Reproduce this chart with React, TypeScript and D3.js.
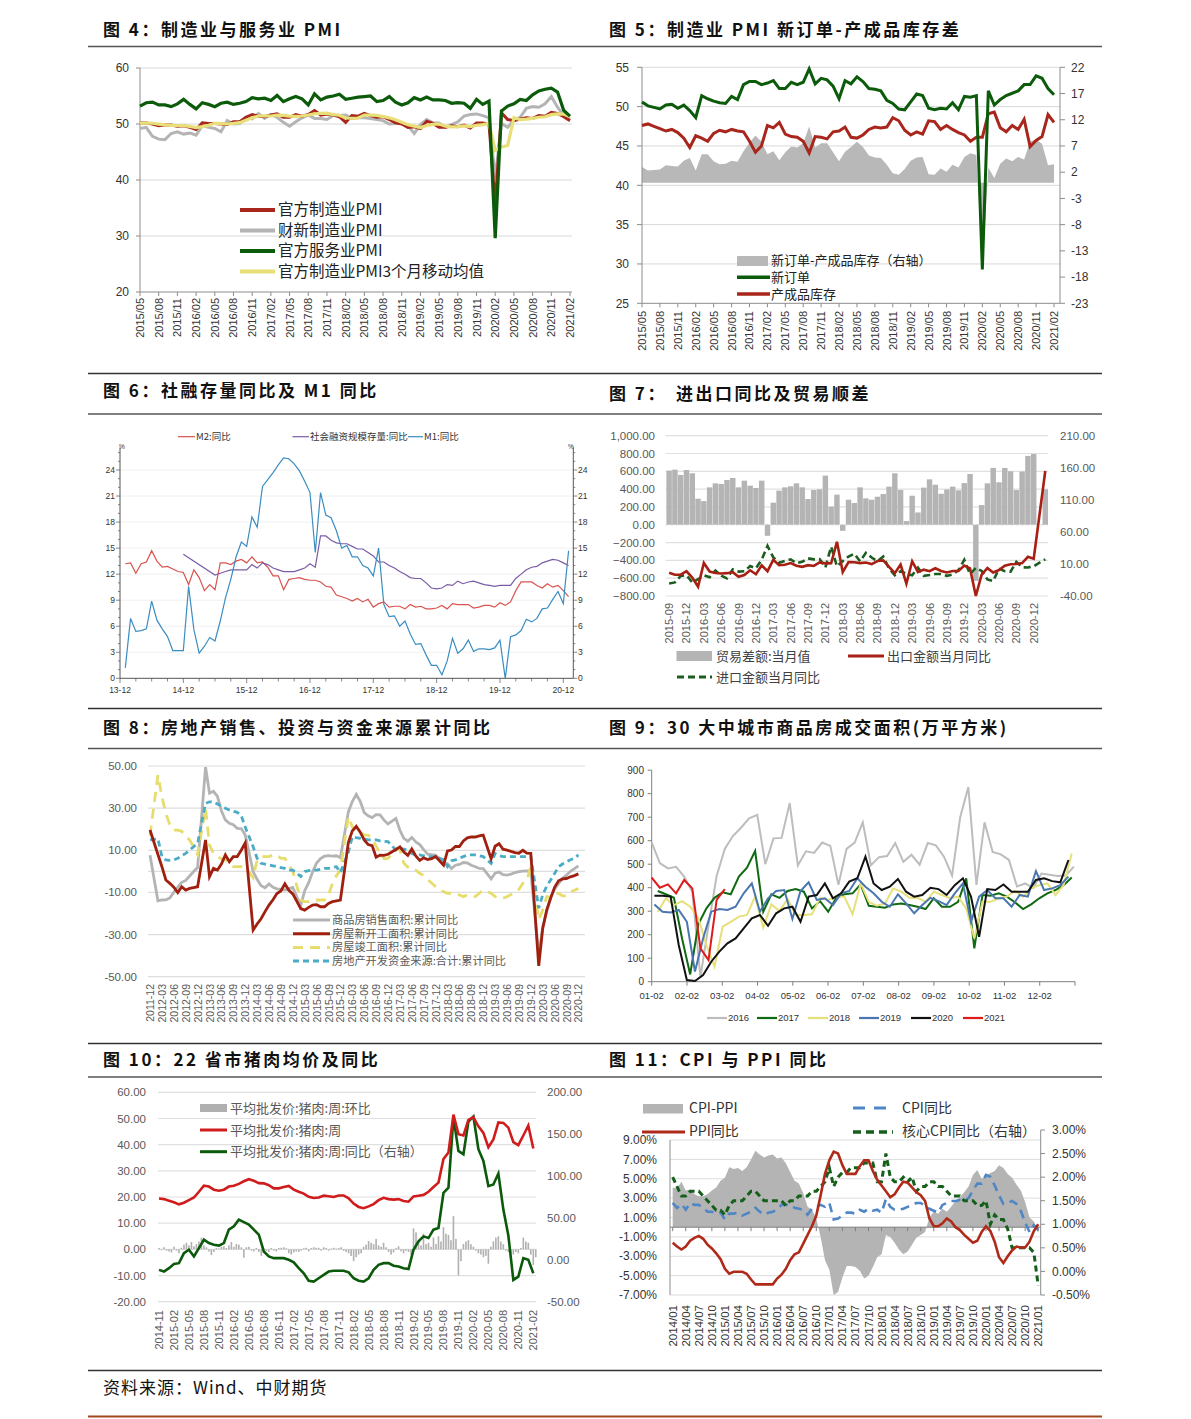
import React from "react";
import * as d3 from "d3";

const NUM = "'Liberation Sans', Arial, 'Noto Sans CJK SC', sans-serif";
const CJK = "'Noto Sans CJK SC', 'Liberation Sans', sans-serif";

function monthSeq(y0: number, m0: number, n: number, sep: string, short = false): string[] {
  const out: string[] = [];
  for (let i = 0; i < n; i++) {
    const k = m0 - 1 + i;
    const yy = y0 + Math.floor(k / 12);
    const mm = (k % 12) + 1;
    const ys = short ? String(yy).slice(2) : String(yy);
    out.push(ys + sep + (mm < 10 ? "0" + mm : String(mm)));
  }
  return out;
}

type V = number | null;

// ---------------- Chart 4: PMI ----------------
const pmiMonths = monthSeq(2015, 5, 70, "/");
const pmiOfficial = [50.2,50.2,50.0,49.7,49.8,49.8,49.6,49.7, 49.4,49.0,50.2,50.1,50.1,50.0,49.9,50.4,50.4,51.2,51.7,51.4, 51.3,51.6,51.8,51.2,51.2,51.7,51.4,51.7,52.4,51.6,51.8,51.6, 51.3,50.3,51.5,51.4,51.9,51.5,51.2,51.3,50.8,50.2,50.0,49.4, 49.5,49.2,50.5,50.1,49.4,49.4,49.7,49.5,49.8,49.3,50.2,50.2, 50.0,35.7,52.0,50.8,50.6,50.9,51.1,51.0,51.5,51.4,52.1,51.9, 51.3,50.6];
const pmiCaixin = [49.2,49.4,47.8,47.3,47.2,48.3,48.6,48.2, 48.4,48.0,49.7,49.4,49.2,48.6,50.6,50.0,50.1,51.2,50.9,51.9, 51.0,51.7,51.2,50.3,49.6,50.4,51.1,51.6,51.0,51.0,50.8,51.5, 51.5,51.6,51.0,51.1,51.1,51.0,50.8,50.6,50.0,50.1,50.2,49.7, 48.3,49.9,50.8,50.2,50.2,49.4,49.9,50.4,51.4,51.7,51.8,51.5, 51.1,40.3,50.1,49.4,50.7,51.2,52.8,53.1,53.0,53.6,54.9,53.0, 51.5,50.9];
const pmiService = [53.2,53.8,53.9,53.4,53.4,53.1,53.6,54.4, 53.5,52.7,53.8,53.5,53.1,53.7,53.9,53.5,53.7,54.0,54.7,54.5, 54.6,54.2,55.1,54.0,54.5,54.9,54.5,53.4,55.4,54.3,54.8,55.0, 55.3,54.4,54.6,54.8,54.9,55.0,54.0,54.2,54.9,53.9,53.4,53.8, 54.7,54.3,54.8,54.3,54.3,54.2,53.7,53.8,53.7,52.8,54.4,53.5, 54.1,29.6,52.3,53.2,53.6,54.4,54.2,55.2,55.9,56.2,56.4,55.7, 52.4,51.4];
const pmiMa3 = [50.13,50.17,50.13,49.97,49.83,49.77,49.73,49.7, 49.57,49.37,49.53,49.77,50.13,50.07,50.0,50.1,50.23,50.67,51.1,51.43, 51.47,51.43,51.57,51.53,51.4,51.37,51.43,51.6,51.83,51.9,51.93,51.67, 51.57,51.07,51.03,51.07,51.6,51.6,51.53,51.33,51.1,50.77,50.33,49.87, 49.63,49.37,49.73,49.93,50.0,49.63,49.5,49.53,49.67,49.53,49.77,49.9, 50.13,45.3,45.9,46.17,51.13,50.77,50.87,51.0,51.2,51.3,51.67,51.8, 51.77,51.27];

// ---------------- Chart 5: new orders vs inventory ----------------
const noMonths = monthSeq(2015, 5, 70, "/");
const newOrders = [50.6,50.1,49.9,49.7,50.2,50.3,49.8,50.2, 49.5,48.6,51.4,51.0,50.7,50.5,50.4,51.3,50.9,52.8,53.2,53.2, 52.8,53.0,53.3,52.3,52.3,53.1,52.8,53.1,54.8,52.9,53.6,53.4, 52.6,51.0,53.3,52.9,53.8,53.2,52.3,52.2,52.0,50.8,50.4,49.7, 49.6,50.6,51.6,51.4,49.8,49.6,49.8,49.7,50.5,49.6,51.3,51.2, 51.4,29.3,52.0,50.2,50.9,51.4,51.7,52.0,52.8,52.8,53.9,53.6, 52.3,51.5];
const finishedInv = [47.6,47.8,47.5,47.2,46.9,47.1,46.7,46.0, 44.8,46.3,46.0,45.6,46.6,47.0,46.8,47.1,46.9,46.8,45.6,44.2, 45.0,47.6,47.3,48.0,46.5,46.2,46.1,45.6,44.1,46.2,46.1,45.9, 46.8,46.9,47.4,46.1,46.0,46.4,47.1,47.4,47.3,47.4,48.6,48.2, 47.0,46.4,46.8,46.5,48.2,48.1,47.1,47.6,47.1,46.7,46.4,45.6, 46.1,46.1,49.1,49.3,47.3,46.8,47.6,47.1,48.4,44.9,45.7,46.2, 49.0,48.0];
const orderInvGap = [3.0,2.3,2.4,2.5,3.3,3.2,3.1,4.2, 4.7,2.3,5.4,5.4,4.1,3.5,3.6,4.2,4.0,6.0,7.6,9.0, 7.8,5.4,6.0,4.3,5.8,6.9,6.7,7.5,10.7,6.7,7.5,7.5, 5.8,4.1,5.9,6.8,7.8,6.8,5.2,4.8,4.7,3.4,1.8,1.5, 2.6,4.2,4.8,4.9,1.6,1.5,2.7,2.1,3.4,2.9,4.9,5.6, 5.3,-16.8,2.9,0.9,3.6,4.6,4.1,4.9,4.4,7.9,8.2,7.4, 3.3,3.5];

// ---------------- Chart 6: M2 / TSF / M1 ----------------
const moneyMonths = monthSeq(2014, 1, 85, "-", true);
const moneyTickLabels = ["13-12","14-12","15-12","16-12","17-12","18-12","19-12","20-12"];
const m2Yoy = [13.2,13.3,12.1,13.2,13.4,14.7,13.5,12.8,12.9,12.6,12.3,12.2, 10.8,12.5,11.6,10.1,10.8,10.2,13.3,13.3,13.1,13.5,13.7,13.3, 14.0,13.3,13.4,12.8,11.8,11.8,10.2,11.4,11.5,11.6,11.4,11.3, 11.3,11.1,10.6,10.5,9.6,9.4,9.2,8.9,9.2,8.8,9.1,8.2, 8.6,8.8,8.2,8.3,8.3,8.0,8.5,8.2,8.3,8.0,8.0,8.1, 8.4,8.0,8.6,8.5,8.5,8.5,8.1,8.2,8.4,8.4,8.2,8.7, 8.4,8.8,10.1,11.1,11.1,11.1,10.7,10.4,10.9,10.5,10.7,10.1, 9.4];
const tsfYoy: V[] = [null,null,null,null,null,null,null,null,null,null,null,14.3, null,null,null,null,null,11.9,12.1,12.3,12.5,12.5,12.5,12.5, 13.1,12.7,13.3,13.1,12.7,12.5,12.3,12.3,12.3,12.5,12.7,13.2, 12.8,16.4,16.4,15.9,15.6,15.5,15.5,15.2,14.9,14.9,14.5,14.1, 13.4,13.4,13.0,12.7,12.3,12.0,11.6,11.5,11.5,11.0,10.4,10.3, 10.4,10.8,10.7,11.2,10.9,11.1,11.2,11.0,10.8,10.7,10.6,10.7, 10.7,10.7,11.5,12.0,12.5,12.8,12.9,13.3,13.5,13.7,13.6,13.3, 13.0];
const m1Yoy = [1.2,6.9,5.4,5.5,5.7,8.9,6.7,5.7,4.8,3.2,3.2,3.2, 10.6,5.6,2.9,3.7,4.7,4.3,6.6,9.3,11.4,14.0,15.7,15.2, 18.6,17.4,22.1,22.9,23.7,24.6,25.4,25.3,24.7,23.9,22.7,21.4, 14.5,21.4,18.8,18.5,17.0,15.0,15.3,14.0,14.0,13.0,12.7,11.8, 15.0,8.5,7.1,7.2,6.0,6.6,5.1,3.9,4.0,2.7,1.5,1.5, 0.4,2.0,4.6,2.9,3.4,4.4,3.1,3.4,3.4,3.3,3.5,4.4, 0.0,4.8,5.0,5.5,6.8,6.5,6.9,8.0,8.1,9.1,10.0,8.6, 14.7];

// ---------------- Chart 7: trade ----------------
const tradeMonths = monthSeq(2015, 9, 66, "-");
const tradeBalance: V[] = [608,619,559,615,578,293,266,420,465,458, 503,525,420,495,439,413,495,-124,248,383, 420,432,465,420,289,390,398,552,203,338, -68,281,244,420,296,281,315,345,428,578, 391,41,326,138,417,510,450,348,397,428, 387,468,570,-630,221,465,638,477,638,600, 390,597,773,795,null,398];
const exportYoy: V[] = [-3.7,-6.9,-6.8,-1.4, -11.2,-25.4,11.5,-1.8,-4.1,-4.8,-4.4,-2.8,-10.0,-7.3,0.1,-6.1, 7.9,-1.3,16.4,8.0,8.7,11.3,7.2,5.5,8.1,6.9,12.3,10.9, 11.1,44.5,-2.7,12.9,12.6,11.3,12.2,9.8,14.5,15.6,5.4,-4.4, 9.1,-20.7,14.2,-2.7,1.1,-1.3,3.3,-1.0,-3.2,-0.9,-1.1,7.6, 3.0,-40.0,-6.6,3.5,-3.3,0.5,7.2,9.5,9.9,11.4,21.1,18.1, null,154.9];
const importYoy: V[] = [-20.4,-18.8,-8.7,-7.6, -18.8,-13.8,-7.6,-10.9,-0.4,-8.4,-12.5,1.5,-1.9,-1.4,6.7,3.1, 16.7,38.1,20.3,11.9,14.8,17.2,11.0,13.3,18.7,17.2,17.7,4.5, 36.9,6.3,14.4,21.5,26.0,14.1,27.3,20.0,14.3,21.4,3.0,-7.6, -1.5,-5.2,-7.6,4.0,-8.5,-7.3,-5.6,-5.6,-8.5,-6.4,0.3,16.5, -6.0,4.0,-0.9,-14.2,-16.7,2.7,-1.4,-2.1,13.2,4.7,4.5,6.5, null,17.3];
const tradeLeftTicks = [1000,800,600,400,200,0,-200,-400,-600,-800];
const tradeRightTicks = [210,160,110,60,10,-40];

// ---------------- Chart 8: real estate ----------------
const reMonths = monthSeq(2011, 12, 109, "-");
const reSales: V[] = [7.6,
 null,-14.0,-13.6,-13.5,-12.6,-10.0,-7.5,-5.2,-4.3,-2.2,-0.1,1.8,
 null,49.5,37.1,38.0,35.6,28.7,24.4,22.8,22.1,20.4,20.3,17.3,
 null,-0.1,-3.8,-6.8,-7.8,-6.0,-7.6,-8.3,-8.6,-8.9,-8.2,-7.6,
 null,-16.3,-9.2,-5.4,-0.2,3.9,6.1,7.2,7.5,7.2,7.4,6.5,
 null,28.2,33.1,36.5,33.2,27.9,26.4,25.5,26.9,26.8,24.3,22.5,
 null,25.1,19.5,15.7,14.3,16.1,14.0,12.7,10.3,8.2,7.9,7.7,
 null,4.1,3.6,1.3,2.9,3.3,4.2,4.0,2.9,2.2,1.4,1.3,
 null,-3.6,-0.9,-0.3,-1.6,-1.8,-1.3,-0.6,-0.1,0.1,0.2,-0.1,
 null,-39.9,-26.3,-19.3,-12.3,-8.4,-5.8,-3.3,-1.8,0.0,1.3,2.6];
const reStarts: V[] = [19.6,
 null,8.0,2.2,-4.1,-5.7,-7.5,-10.1,-7.3,-8.9,-8.1,-7.7,-7.3,
 null,14.9,-2.5,1.4,0.6,3.5,7.8,4.6,7.0,7.0,10.0,13.5,
 null,-27.8,-25.0,-22.5,-19.1,-16.0,-13.5,-10.5,-9.3,-5.9,-9.0,-10.7,
 null,-17.7,-18.4,-17.1,-16.0,-15.8,-16.8,-16.8,-15.2,-14.4,-14.0,-13.6,
 null,13.7,19.2,21.4,18.6,14.9,12.7,12.2,6.7,7.7,7.6,8.1,
 null,10.4,11.6,9.2,7.6,10.6,7.3,5.2,6.4,5.6,6.0,7.0,
 null,2.9,9.7,10.1,11.8,11.8,14.4,15.9,16.4,16.3,16.8,17.2,
 null,6.0,11.9,13.1,10.5,10.1,9.5,8.9,8.6,10.0,8.6,8.5,
 null,-44.9,-27.2,-18.4,-12.8,-7.6,-4.5,-3.6,-3.4,-2.6,-2.0,-1.2];
const reCompleted: V[] = [17.0,
 null,45.7,35.4,27.5,22.0,19.6,19.6,19.0,16.5,14.9,11.7,8.0,
 null,30.0,12.5,8.5,7.0,6.0,5.4,4.0,2.2,2.2,2.2,2.2,
 null,-3.0,5.4,7.0,7.0,7.0,7.8,7.8,6.2,6.2,3.0,-0.1,
 null,-13.6,-14.4,-14.4,-13.6,-13.6,-13.6,-13.6,-11.2,-5.7,-2.0,0.6,
 null,25.9,21.2,19.0,18.8,17.2,17.2,15.7,12.0,8.5,6.0,6.1,
 null,10.9,10.1,3.8,2.0,0.6,0.6,-0.9,-2.0,-4.0,-5.5,-7.3,
 null,-9.7,-10.4,-10.4,-10.4,-11.2,-12.0,-11.2,-11.2,-12.0,-10.4,-8.9,
 null,-10.4,-12.0,-12.8,-12.8,-12.0,-11.0,-10.4,-8.6,-5.7,-4.5,2.6,
 null,-22.9,-18.4,-12.0,-12.4,-10.5,-10.5,-11.6,-11.6,-9.7,-9.0,-8.1];
const reFunding: V[] = [14.9,
 null,15.5,7.0,5.4,5.2,5.4,6.2,7.5,8.5,10.1,11.7,13.3,
 null,32.2,33.0,33.0,32.0,31.0,30.0,29.1,28.5,28.0,26.5,21.0,
 null,11.7,6.2,3.8,3.4,3.0,2.6,2.2,1.8,1.4,0.6,0.6,
 null,-2.5,-0.1,0.3,0.6,0.6,1.0,1.4,1.4,1.8,2.2,-0.5,
 null,9.0,16.5,16.0,15.7,15.3,14.9,14.9,14.9,14.5,14.3,14.1,
 null,10.1,10.9,10.5,10.1,8.5,7.8,7.8,7.4,7.0,7.0,7.0,
 null,5.4,2.2,5.0,5.4,6.2,7.0,7.8,7.8,7.8,7.4,7.0,
 null,3.8,8.5,7.5,7.0,7.0,7.0,7.0,7.0,7.0,7.0,7.0,
 null,-17.5,-11.2,-7.0,-4.1,-1.0,2.2,3.5,4.6,5.5,6.2,7.8];
const reTicks = [50, 30, 10, -10, -30, -50];

// ---------------- Chart 9: 30-city housing sales (weekly) ----------------
const cityMonthLabels = ["01-02","02-02","03-02","04-02","05-02","06-02","07-02","08-02","09-02","10-02","11-02","12-02"];
const city2016 = [593,505,482,489,447,383,20,240,450,565,620,655,695,710,500,610,612,760,495,555,548,592,578,412,565,592,678,496,530,535,590,510,540,498,590,580,532,452,700,828,412,678,552,542,518,405,418,398,460,455,450,452,490];
const city2017 = [386,372,357,184,31,244,312,357,380,372,447,485,556,298,372,357,386,394,383,312,343,298,357,372,376,414,323,319,315,329,333,326,319,309,355,319,319,340,440,142,369,366,376,362,338,309,329,355,376,390,411,443];
const city2018 = [298,355,326,343,319,270,156,64,234,255,277,284,362,230,329,301,352,284,284,287,357,348,362,362,287,418,340,323,333,397,383,357,357,340,383,369,355,362,312,184,340,340,355,362,386,362,397,411,418,369,411,546];
const city2019 = [329,298,295,305,255,43,184,298,309,305,319,376,418,298,355,386,390,267,386,423,348,355,326,376,386,440,404,376,340,319,372,333,291,326,357,343,326,376,418,255,362,390,355,355,319,369,362,471,390,397,411,447];
const city2020 = [366,366,362,156,7,3,28,85,128,163,184,227,270,284,238,291,312,319,255,362,369,418,355,376,426,440,532,418,390,404,437,383,362,369,400,394,369,411,440,362,191,394,390,414,383,383,383,433,440,428,423,518];
const city2021 = [443,400,414,376,433,397,142,92,348,394];
const cityYears = ["2016","2017","2018","2019","2020","2021"];

// ---------------- Chart 10: pork ----------------
const porkMonths = monthSeq(2014, 11, 76, "-");
const porkPrice = [19.4,19.2,18.6,18.0,17.2,17.8,18.8,19.8,22.0,24.3, 24.0,22.8,22.4,22.8,24.0,24.3,25.0,26.0,26.8,26.2, 25.3,25.2,24.5,23.3,23.3,23.8,24.2,22.8,22.0,21.3, 20.1,19.6,19.8,20.5,20.3,20.0,20.6,20.6,19.5,17.5, 16.2,15.7,16.4,17.3,18.8,19.7,19.2,19.0,19.2,18.5, 18.2,20.2,20.5,20.8,22.0,23.8,25.5,34.5,37.0,51.5, 44.0,43.5,49.5,50.5,47.0,44.5,39.0,42.0,48.5,48.3, 46.5,41.0,39.8,43.5,47.3,38.5];
const porkYoy = [-12,-14,-10,-5,-4,8,12,4,14,24, 20,18,17,20,36,40,48,45,42,36, 30,10,4,2,2,2,0,-3,-10,-16, -25,-26,-22,-18,-14,-13,-13,-13,-15,-22, -25,-26,-22,-12,-6,-4,-4,-7,-8,-10, -11,12,22,28,26,36,38,80,86,170, 130,126,165,171,132,118,88,90,103,60, 29,-24,-20,2,0,-16];
const porkWow = [0.5,-0.3, 0.8,-0.5, -0.8,-1.2, 1.0,-0.5, -1.5,0.6, 1.8,2.5, 1.5,2.8, 1.2,2.0, 3.0,4.5, 1.5,0.8, -0.8,-2.2, -1.0,0.5, 0.3,1.0, 1.2,0.5,
 1.5,2.8, 1.0,2.0, 1.8,0.8, -3.2,0.8, 1.0,-0.5, -0.8,0.5, -1.0,-2.5, 0.3,-0.6, -1.0,0.5, -0.5,-0.8, 0.5,0.6, 0.8,0.4,
 -1.5,-2.0, -1.2,-0.8, -1.0,-0.5, 0.4,0.6, -0.8,0.5, 0.8,0.6, 0.6,-0.5, 0.8,0.5, -0.5,0.3, 0.6,0.3, 0.5,0.8, -0.6,-1.0,
 -1.5,-2.5, -4.5,-3.0, -2.0,-1.5, 1.0,1.8, 3.2,2.5, 2.0,4.0, 1.5,1.0, 2.5,0.8, -1.0,-2.0, -1.2,0.5, 1.2,-0.8, -1.5,-0.6,
 -1.0,-2.0, 8.0,6.5, 3.0,1.5, 6.0,2.0, 2.5,1.0, 4.5,2.0, 5.0,3.0, 8.5,6.0, 5.5,3.5, 12.7,4.0, -10.0,-4.5, 2.0,3.0,
 3.5,2.0, 1.0,-0.5, -1.5,-2.0, -3.0,-2.5, -5.5,1.0, 3.0,4.5, 5.0,3.0, 2.0,-0.5, -1.0,-1.5, -2.0,-1.0, -1.5,0.5, 4.5,3.0,
 2.5,-2.0, -6.0,-3.0];
const porkLeftTicks = [60,50,40,30,20,10,0,-10,-20];
const porkRightTicks = [200,150,100,50,0,-50];

// ---------------- Chart 11: CPI / PPI ----------------
const priceMonths = monthSeq(2014, 1, 85, "/");
const cpiYoy = [2.5,2.0,2.4,1.8,2.5,2.3,2.3,2.0,1.6,1.6,1.4,1.5, 0.8,1.4,1.4,1.5,1.2,1.4,1.6,2.0,1.6,1.3,1.5,1.6, 1.8,2.3,2.3,2.3,2.0,1.9,1.8,1.3,1.9,2.1,2.3,2.1, 2.5,0.8,0.9,1.2,1.5,1.5,1.4,1.8,1.6,1.9,1.7,1.8, 1.5,2.9,2.1,1.8,1.8,1.9,2.1,2.3,2.5,2.5,2.2,1.9, 1.7,1.5,2.3,2.5,2.7,2.7,2.8,2.8,3.0,3.8,4.5,4.5, 5.4,5.2,4.3,3.3,2.4,2.5,2.7,2.4,1.7,0.5,-0.5,0.2, -0.3];
const ppiYoy = [-1.6,-2.0,-2.3,-2.0,-1.4,-1.1,-0.9,-1.2,-1.8,-2.2,-2.7,-3.3, -4.3,-4.8,-4.6,-4.6,-4.6,-4.8,-5.4,-5.9,-5.9,-5.9,-5.9,-5.9, -5.3,-4.9,-4.3,-3.4,-2.8,-2.6,-1.7,-0.8,0.1,1.2,3.3,5.5, 6.9,7.8,7.6,6.4,5.5,5.5,5.5,6.3,6.9,6.9,5.8,4.9, 4.3,3.7,3.1,3.4,4.1,4.7,4.6,4.1,3.6,3.3,2.7,0.9, 0.1,0.1,0.4,0.9,0.6,0.0,-0.3,-0.8,-1.2,-1.6,-1.4,-0.5, 0.1,-0.4,-1.5,-3.1,-3.7,-3.0,-2.4,-2.0,-2.1,-2.1,-1.5,-0.4, 0.3];
const coreCpiYoy = [2.0,1.8,1.6,1.6,1.7,1.7,1.7,1.6,1.5,1.4,1.3,1.3, 1.2,1.4,1.5,1.5,1.5,1.6,1.7,1.7,1.6,1.5,1.5,1.5, 1.5,1.5,1.4,1.5,1.5,1.6,1.6,1.6,1.7,1.7,1.8,1.9, 2.2,1.8,2.0,2.1,2.1,2.2,2.2,2.2,2.3,2.3,2.3,1.9, 1.9,2.5,2.0,1.9,1.9,2.0,1.9,2.0,1.7,1.8,1.8,1.9, 1.9,1.8,1.8,1.7,1.6,1.6,1.6,1.5,1.5,1.5,1.4,1.4, 1.5,1.0,1.2,1.1,1.1,0.9,0.5,0.5,0.5,0.5,0.5,0.4, -0.3];
const cpiPpiGap = [4.1,4.0,4.7,3.8,3.9,3.4,3.2,3.2,3.4,3.8,4.1,4.8, 5.1,6.2,6.0,6.1,5.8,6.2,7.0,7.9,7.5,7.2,7.4,7.5, 7.1,7.2,6.6,5.7,4.8,4.5,3.5,2.1,1.8,0.9,-1.0,-3.4, -4.4,-7.0,-6.7,-5.2,-4.0,-4.0,-4.1,-4.5,-5.3,-5.0,-4.1,-3.1, -2.8,-0.8,-1.0,-1.6,-2.3,-2.8,-2.5,-1.8,-1.1,-0.8,-0.5,1.0, 1.6,1.4,1.9,1.6,2.1,2.7,3.1,3.6,4.2,5.4,5.9,5.0, 5.3,5.6,5.8,6.4,6.1,5.5,5.1,4.4,3.8,2.6,1.0,0.6, -0.6];
const priceLeftTicks = [9,7,5,3,1,-1,-3,-5,-7];
const priceRightTicks = [3,2.5,2,1.5,1,0.5,0,-0.5];

// ---------------- helpers ----------------
function linePath(vals: V[], xf: (i: number) => number, yf: (v: number) => number): string {
  const pts: [number, number][] = [];
  vals.forEach((v, i) => {
    if (v !== null && v !== undefined) pts.push([xf(i), yf(v)]);
  });
  return d3.line()(pts) || "";
}

function VText(p: { x: number; y: number; size: number; fill?: string; text: string }) {
  return (
    <text transform={`translate(${p.x},${p.y}) rotate(-90)`} textAnchor="end" dominantBaseline="central"
      fontSize={p.size} fill={p.fill || "#333"} fontFamily={NUM}>{p.text}</text>
  );
}

// ---------------- charts ----------------
function Chart4() {
  const x = d3.scaleLinear().domain([0, pmiMonths.length - 1]).range([140, 570]);
  const y = d3.scaleLinear().domain([20, 60]).range([292, 68]);
  const xf = (i: number) => x(i);
  const legend = [
    { t: "官方制造业PMI", c: "#a8261b", y: 210 },
    { t: "财新制造业PMI", c: "#b4b4b4", y: 230.5 },
    { t: "官方服务业PMI", c: "#0b5b0b", y: 251 },
    { t: "官方制造业PMI3个月移动均值", c: "#e8df78", y: 271.5 },
  ];
  return (
    <g>
      {y.ticks(4).map(v => (
        <g key={v}>
          {v > 20 && <line x1={140} x2={572} y1={y(v)} y2={y(v)} stroke="#d9d9d9" strokeWidth={1} />}
          <line x1={136} x2={140} y1={y(v)} y2={y(v)} stroke="#8c8c8c" />
          <text x={129} y={y(v)} dy="0.35em" textAnchor="end" fontSize={12} fill="#333">{v}</text>
        </g>
      ))}
      <line x1={140} x2={140} y1={68} y2={292} stroke="#8c8c8c" />
      <line x1={140} x2={572} y1={292} y2={292} stroke="#8c8c8c" />
      {pmiMonths.map((m, i) => i % 3 === 0 ? (
        <g key={m}>
          <line x1={x(i)} x2={x(i)} y1={292} y2={296} stroke="#8c8c8c" />
          <VText x={x(i)} y={298} size={11} text={m} />
        </g>
      ) : null)}
      <path d={linePath(pmiCaixin, xf, y)} fill="none" stroke="#b4b4b4" strokeWidth={3} />
      <path d={linePath(pmiOfficial, xf, y)} fill="none" stroke="#a8261b" strokeWidth={3} />
      <path d={linePath(pmiMa3, xf, y)} fill="none" stroke="#e8df78" strokeWidth={3.2} />
      <path d={linePath(pmiService, xf, y)} fill="none" stroke="#0b5b0b" strokeWidth={3.2} />
      {legend.map(l => (
        <g key={l.t}>
          <line x1={240} x2={275} y1={l.y} y2={l.y} stroke={l.c} strokeWidth={4} />
          <text x={278} y={l.y} dy="0.35em" fontSize={15.5} fontFamily={CJK} fill="#222">{l.t}</text>
        </g>
      ))}
    </g>
  );
}

function Chart5() {
  const x = d3.scaleLinear().domain([0, noMonths.length - 1]).range([642, 1054]);
  const yL = d3.scaleLinear().domain([25, 55]).range([303.3, 67.3]);
  const yR = d3.scaleLinear().domain([-23, 22]).range([303.3, 67.3]);
  const xf = (i: number) => x(i);
  const area = d3.area<number>().x((_, i) => x(i)).y0(yR(0)).y1(d => yR(d))(orderInvGap) || "";
  const leftTicks = [25, 30, 35, 40, 45, 50, 55];
  const rightTicks = [22, 17, 12, 7, 2, -3, -8, -13, -18, -23];
  return (
    <g>
      {leftTicks.map(v => (
        <g key={v}>
          {v > 25 && <line x1={642} x2={1060} y1={yL(v)} y2={yL(v)} stroke="#d9d9d9" />}
          <line x1={637} x2={642} y1={yL(v)} y2={yL(v)} stroke="#8c8c8c" />
          <text x={629} y={yL(v)} dy="0.35em" textAnchor="end" fontSize={12} fill="#333">{v}</text>
        </g>
      ))}
      {rightTicks.map(v => (
        <g key={v}>
          <line x1={1060} x2={1065} y1={yR(v)} y2={yR(v)} stroke="#8c8c8c" />
          <text x={1071} y={yR(v)} dy="0.35em" fontSize={12} fill="#333">{v}</text>
        </g>
      ))}
      <path d={area} fill="#b8b8b8" />
      <line x1={642} x2={642} y1={67.3} y2={303.3} stroke="#8c8c8c" />
      <line x1={1060} x2={1060} y1={67.3} y2={303.3} stroke="#8c8c8c" />
      <line x1={642} x2={1060} y1={303.3} y2={303.3} stroke="#8c8c8c" />
      {noMonths.map((m, i) => i % 3 === 0 ? (
        <g key={m}>
          <line x1={x(i)} x2={x(i)} y1={303.3} y2={307.3} stroke="#8c8c8c" />
          <VText x={x(i)} y={311} size={11} text={m} />
        </g>
      ) : null)}
      <path d={linePath(finishedInv, xf, yL)} fill="none" stroke="#a8261b" strokeWidth={3} />
      <path d={linePath(newOrders, xf, yL)} fill="none" stroke="#0b5b0b" strokeWidth={3} />
      <rect x={737} y={256} width={31} height={10} fill="#b8b8b8" />
      <text x={771} y={260.6} dy="0.35em" fontSize={13} fontFamily={CJK} fill="#222">新订单-产成品库存（右轴）</text>
      <line x1={737} x2={770} y1={277.3} y2={277.3} stroke="#0b5b0b" strokeWidth={3.5} />
      <text x={771} y={277.3} dy="0.35em" fontSize={13} fontFamily={CJK} fill="#222">新订单</text>
      <line x1={737} x2={770} y1={294} y2={294} stroke="#a8261b" strokeWidth={3.5} />
      <text x={771} y={294} dy="0.35em" fontSize={13} fontFamily={CJK} fill="#222">产成品库存</text>
    </g>
  );
}

function Chart6() {
  const x = d3.scaleLinear().domain([0, 84]).range([120, 563.3]);
  const y = d3.scaleLinear().domain([0, 24]).range([678.3, 470]);
  const top = y(26.6);
  const xf = (i: number) => x(i + 1);
  const minor = d3.range(0, 27);
  const major = d3.range(0, 25, 3);
  return (
    <g>
      {major.map(v => v > 0 && <line key={"g" + v} x1={120} x2={573.3} y1={y(v)} y2={y(v)} stroke="#f0f0f0" />)}
      <line x1={120} x2={120} y1={top} y2={678.3} stroke="#555" />
      <line x1={573.3} x2={573.3} y1={top} y2={678.3} stroke="#555" />
      <line x1={120} x2={573.3} y1={678.3} y2={678.3} stroke="#555" />
      {minor.map(v => (
        <g key={"m" + v}>
          <line x1={v % 3 === 0 ? 116 : 118} x2={120} y1={y(v)} y2={y(v)} stroke="#555" strokeWidth={0.7} />
          <line x1={573.3} x2={v % 3 === 0 ? 577.3 : 575.3} y1={y(v)} y2={y(v)} stroke="#555" strokeWidth={0.7} />
        </g>
      ))}
      {major.map(v => (
        <g key={"l" + v}>
          <text x={115} y={y(v)} dy="0.35em" textAnchor="end" fontSize={8.5} fill="#333">{v}</text>
          <text x={578} y={y(v)} dy="0.35em" fontSize={8.5} fill="#333">{v}</text>
        </g>
      ))}
      <text x={122} y={top + 2} fontSize={6.5} textAnchor="middle" fill="#333">%</text>
      <text x={571} y={top + 2} fontSize={6.5} textAnchor="middle" fill="#333">%</text>
      {d3.range(0, 85, 3).map(i => (
        <line key={"t" + i} x1={x(i)} x2={x(i)} y1={678.3} y2={i % 12 === 0 ? 683 : 681.5} stroke="#555" strokeWidth={0.7} />
      ))}
      {moneyTickLabels.map((t, k) => (
        <text key={t} x={x(k * 12)} y={690} dy="0.35em" textAnchor="middle" fontSize={8.5} fill="#333">{t}</text>
      ))}
      <path d={linePath(m2Yoy, xf, y)} fill="none" stroke="#d9534f" strokeWidth={1.2} />
      <path d={linePath(tsfYoy, xf, y)} fill="none" stroke="#7a5ca6" strokeWidth={1.2} />
      <path d={linePath(m1Yoy, xf, y)} fill="none" stroke="#3a8dc2" strokeWidth={1.2} />
      <line x1={178} x2={195} y1={436.7} y2={436.7} stroke="#d9534f" strokeWidth={1.2} />
      <text x={196} y={436.7} dy="0.35em" fontSize={9.5} fontFamily={CJK} fill="#333">M2:同比</text>
      <line x1={292.5} x2={309} y1={436.7} y2={436.7} stroke="#7a5ca6" strokeWidth={1.2} />
      <text x={310} y={436.7} dy="0.35em" fontSize={9.5} fontFamily={CJK} fill="#333">社会融资规模存量:同比</text>
      <line x1={408} x2={423} y1={436.7} y2={436.7} stroke="#3a8dc2" strokeWidth={1.2} />
      <text x={424} y={436.7} dy="0.35em" fontSize={9.5} fontFamily={CJK} fill="#333">M1:同比</text>
    </g>
  );
}

function Chart7() {
  const xb = d3.scaleBand<string>().domain(tradeMonths).range([666.4, 1048]).paddingInner(0.06).paddingOuter(0);
  const yL = d3.scaleLinear().domain([-800, 1000]).range([596, 435.7]);
  const yR = d3.scaleLinear().domain([-40, 210]).range([596, 435.7]);
  const xc = (i: number) => (xb(tradeMonths[i]) || 0) + xb.bandwidth() / 2;
  const fmt = d3.format(",.2f");
  return (
    <g>
      {tradeLeftTicks.map(v => (
        <g key={v}>
          {v !== 0 && <line x1={665.7} x2={1048} y1={yL(v)} y2={yL(v)} stroke="#e0e0e0" strokeWidth={1.2} />}
          <text x={655} y={yL(v)} dy="0.35em" textAnchor="end" fontSize={11.5} fill="#595959">{fmt(v)}</text>
        </g>
      ))}
      {tradeRightTicks.map(v => (
        <text key={v} x={1060} y={yR(v)} dy="0.35em" fontSize={11.5} fill="#595959">{v.toFixed(2)}</text>
      ))}
      {tradeBalance.map((v, i) => v === null ? null : (
        <rect key={i} x={xb(tradeMonths[i])} width={xb.bandwidth()} y={Math.min(yL(v), yL(0))} height={Math.abs(yL(v) - yL(0))} fill="#b4b4b4" />
      ))}
      <line x1={665.7} x2={1048} y1={yL(0)} y2={yL(0)} stroke="#c8c8c8" strokeDasharray="3,2" />
      <path d={linePath(importYoy, xc, yR)} fill="none" stroke="#1b5e20" strokeWidth={2.6} strokeDasharray="7,4" />
      <path d={linePath(exportYoy, xc, yR)} fill="none" stroke="#a81f14" strokeWidth={2.6} />
      {tradeMonths.map((m, i) => i % 3 === 0 ? <VText key={m} x={xc(i)} y={603} size={11} fill="#595959" text={m} /> : null)}
      <rect x={676.5} y={651} width={35.5} height={10} fill="#b4b4b4" />
      <text x={716} y={656} dy="0.35em" fontSize={13} fontFamily={CJK} fill="#404040">贸易差额:当月值</text>
      <line x1={848} x2={884} y1={656} y2={656} stroke="#a81f14" strokeWidth={3} />
      <text x={887} y={656} dy="0.35em" fontSize={13} fontFamily={CJK} fill="#404040">出口金额当月同比</text>
      <line x1={677} x2={712} y1={677} y2={677} stroke="#1b5e20" strokeWidth={3} strokeDasharray="7,4" />
      <text x={716} y={677} dy="0.35em" fontSize={13} fontFamily={CJK} fill="#404040">进口金额当月同比</text>
    </g>
  );
}

function Chart8() {
  const x = d3.scaleLinear().domain([0, reMonths.length - 1]).range([150, 578.4]);
  const y = d3.scaleLinear().domain([-50, 50]).range([976.7, 766]);
  const xf = (i: number) => x(i);
  const legend = [
    { t: "商品房销售面积:累计同比", c: "#b4b4b4", d: "", y: 920 },
    { t: "房屋新开工面积:累计同比", c: "#a0200f", d: "", y: 933.7 },
    { t: "房屋竣工面积:累计同比", c: "#e6dd6c", d: "10,7", y: 947.4 },
    { t: "房地产开发资金来源:合计:累计同比", c: "#4bacc6", d: "6,4", y: 961 },
  ];
  return (
    <g>
      {[...reTicks, 0].map(v => (
        <line key={v} x1={148} x2={585} y1={y(v)} y2={y(v)} stroke="#dedede" strokeWidth={1.2} />
      ))}
      {reTicks.map(v => (
        <text key={v} x={137} y={y(v)} dy="0.35em" textAnchor="end" fontSize={11.5} fill="#595959">{v.toFixed(2)}</text>
      ))}
      <path d={linePath(reSales, xf, y)} fill="none" stroke="#b4b4b4" strokeWidth={2.8} />
      <path d={linePath(reCompleted, xf, y)} fill="none" stroke="#e6dd6c" strokeWidth={2.8} strokeDasharray="10,7" />
      <path d={linePath(reFunding, xf, y)} fill="none" stroke="#4bacc6" strokeWidth={2.8} strokeDasharray="6,4" />
      <path d={linePath(reStarts, xf, y)} fill="none" stroke="#a0200f" strokeWidth={2.8} />
      {reMonths.map((m, i) => i % 3 === 0 ? <VText key={m} x={x(i)} y={984} size={10.5} fill="#595959" text={m} /> : null)}
      {legend.map(l => (
        <g key={l.t}>
          <line x1={293} x2={330} y1={l.y} y2={l.y} stroke={l.c} strokeWidth={3} strokeDasharray={l.d || undefined} />
          <text x={332} y={l.y} dy="0.35em" fontSize={11.2} fontFamily={CJK} fill="#595959">{l.t}</text>
        </g>
      ))}
    </g>
  );
}

function Chart9() {
  const xw = d3.scaleLinear().domain([0, 52.14]).range([651.7, 1075]);
  const y = d3.scaleLinear().domain([0, 900]).range([981.7, 770.2]);
  const series = [
    { v: city2016, c: "#bdbdbd", o: 0 },
    { v: city2017, c: "#0f6a12", o: 0.74 },
    { v: city2018, c: "#e6e07a", o: 0.74 },
    { v: city2019, c: "#4a76b0", o: 0.33 },
    { v: city2020, c: "#111111", o: 0.33 },
    { v: city2021, c: "#e0191b", o: 0 },
  ];
  const legendX = [707, 757, 808, 859, 911, 963];
  return (
    <g>
      <line x1={651.7} x2={651.7} y1={770.2} y2={981.7} stroke="#7f7f7f" />
      <line x1={651.7} x2={1075} y1={981.7} y2={981.7} stroke="#7f7f7f" />
      {y.ticks(9).map(v => (
        <g key={v}>
          <line x1={647.7} x2={651.7} y1={y(v)} y2={y(v)} stroke="#7f7f7f" />
          <text x={644} y={y(v)} dy="0.35em" textAnchor="end" fontSize={10} fill="#333">{v}</text>
        </g>
      ))}
      {cityMonthLabels.map((t, k) => {
        const px = xw((k * 52.14) / 12);
        return (
          <g key={t}>
            <line x1={px} x2={px} y1={981.7} y2={985.7} stroke="#7f7f7f" />
            <text x={px} y={996} dy="0.35em" textAnchor="middle" fontSize={9.5} fill="#333">{t}</text>
          </g>
        );
      })}
      <line x1={1075} x2={1075} y1={981.7} y2={985.7} stroke="#7f7f7f" />
      {series.map((s, k) => (
        <path key={k} d={linePath(s.v, i => xw(i + s.o), y)} fill="none" stroke={s.c} strokeWidth={2} />
      ))}
      {cityYears.map((t, k) => (
        <g key={t}>
          <line x1={legendX[k]} x2={legendX[k] + 20} y1={1018} y2={1018} stroke={series[k].c} strokeWidth={2.2} />
          <text x={legendX[k] + 21} y={1018} dy="0.35em" fontSize={9.5} fill="#333">{t}</text>
        </g>
      ))}
    </g>
  );
}

function Chart10() {
  const x = d3.scaleLinear().domain([0, porkMonths.length - 1]).range([159, 533.3]);
  const yL = d3.scaleLinear().domain([-20, 60]).range([1301.7, 1092.3]);
  const yR = d3.scaleLinear().domain([-50, 200]).range([1301.7, 1092.3]);
  const xf = (i: number) => x(i);
  return (
    <g>
      {porkLeftTicks.map(v => (
        <g key={v}>
          <line x1={158} x2={536} y1={yL(v)} y2={yL(v)} stroke="#e0e0e0" strokeWidth={1.2} />
          <text x={146} y={yL(v)} dy="0.35em" textAnchor="end" fontSize={11.5} fill="#595959">{v.toFixed(2)}</text>
        </g>
      ))}
      {porkRightTicks.map(v => (
        <text key={v} x={547} y={yR(v)} dy="0.35em" fontSize={11.5} fill="#595959">{v.toFixed(2)}</text>
      ))}
      {porkWow.map((v, k) => (
        <rect key={k} x={x(k / 2) - 0.8} width={1.6} y={Math.min(yL(v), yL(0))} height={Math.max(0.6, Math.abs(yL(v) - yL(0)))} fill="#b0b0b0" />
      ))}
      <path d={linePath(porkYoy, xf, yR)} fill="none" stroke="#0b5a0b" strokeWidth={2.6} />
      <path d={linePath(porkPrice, xf, yL)} fill="none" stroke="#d01c1c" strokeWidth={2.6} />
      {porkMonths.map((m, i) => i % 3 === 0 ? <VText key={m} x={x(i)} y={1310} size={11} fill="#595959" text={m} /> : null)}
      <rect x={200} y={1104} width={27} height={8} fill="#b0b0b0" />
      <text x={230} y={1108} dy="0.35em" fontSize={13} fontFamily={CJK} fill="#595959">平均批发价:猪肉:周:环比</text>
      <line x1={200} x2={227} y1={1130} y2={1130} stroke="#d01c1c" strokeWidth={3} />
      <text x={230} y={1130} dy="0.35em" fontSize={13} fontFamily={CJK} fill="#595959">平均批发价:猪肉:周</text>
      <line x1={200} x2={227} y1={1151.7} y2={1151.7} stroke="#0b5a0b" strokeWidth={3} />
      <text x={230} y={1151.7} dy="0.35em" fontSize={13} fontFamily={CJK} fill="#595959">平均批发价:猪肉:周:同比（右轴）</text>
    </g>
  );
}

function Chart11() {
  const x = d3.scaleLinear().domain([0, priceMonths.length - 1]).range([672.7, 1038.2]);
  const yL = d3.scaleLinear().domain([-7, 9]).range([1295, 1140]);
  const yR = d3.scaleLinear().domain([-0.5, 3]).range([1295, 1130]);
  const xf = (i: number) => x(i);
  const area = d3.area<number>().x((_, i) => x(i)).y0(yL(0)).y1(d => yL(d))(cpiPpiGap) || "";
  return (
    <g>
      {priceLeftTicks.map(v => (
        <g key={v}>
          <line x1={670} x2={1040.7} y1={yL(v)} y2={yL(v)} stroke="#dcdcdc" />
          <text x={657} y={yL(v)} dy="0.35em" textAnchor="end" fontSize={12} fill="#333">{v.toFixed(2) + "%"}</text>
        </g>
      ))}
      {priceRightTicks.map(v => (
        <g key={v}>
          <line x1={1040.7} x2={1045} y1={yR(v)} y2={yR(v)} stroke="#8c8c8c" />
          <text x={1052} y={yR(v)} dy="0.35em" fontSize={12} fill="#333">{v.toFixed(2) + "%"}</text>
        </g>
      ))}
      <path d={area} fill="#b4b4b4" />
      <line x1={670} x2={670} y1={1140} y2={1295} stroke="#8c8c8c" />
      <line x1={1040.7} x2={1040.7} y1={1130} y2={1295} stroke="#8c8c8c" />
      <line x1={670} x2={1040.7} y1={yL(0)} y2={yL(0)} stroke="#7f7f7f" />
      {priceMonths.map((m, i) => i % 3 === 0 ? (
        <g key={m}>
          <line x1={x(i)} x2={x(i)} y1={yL(0)} y2={yL(0) + 4} stroke="#7f7f7f" />
          <VText x={x(i)} y={1305} size={11.5} fill="#333" text={m} />
        </g>
      ) : null)}
      <path d={linePath(cpiYoy, xf, yL)} fill="none" stroke="#4f86c6" strokeWidth={2.6} strokeDasharray="9,6" />
      <path d={linePath(coreCpiYoy, xf, yR)} fill="none" stroke="#14601a" strokeWidth={3} strokeDasharray="6,4" />
      <path d={linePath(ppiYoy, xf, yL)} fill="none" stroke="#b02a1a" strokeWidth={2.6} />
      <rect x={643} y={1104} width={40} height={9.5} fill="#b4b4b4" />
      <text x={689} y={1108.5} dy="0.35em" fontSize={14} fontFamily={CJK} fill="#333">CPI-PPI</text>
      <line x1={642} x2={685} y1={1132} y2={1132} stroke="#b02a1a" strokeWidth={3.2} />
      <text x={689} y={1131} dy="0.35em" fontSize={14} fontFamily={CJK} fill="#333">PPI同比</text>
      <line x1={853} x2={893} y1={1108} y2={1108} stroke="#4f86c6" strokeWidth={3.2} strokeDasharray="12,9" />
      <text x={902} y={1108} dy="0.35em" fontSize={14} fontFamily={CJK} fill="#333">CPI同比</text>
      <line x1={853} x2={893} y1={1132} y2={1132} stroke="#14601a" strokeWidth={3.5} strokeDasharray="8,5" />
      <text x={902} y={1131} dy="0.35em" fontSize={14} fontFamily={CJK} fill="#333">核心CPI同比（右轴）</text>
    </g>
  );
}

function Frame() {
  const titleStyle = { fontSize: 17, fontWeight: 700 as const, fontFamily: CJK, letterSpacing: 2.5, fill: "#111" };
  const titles = [
    { x: 103, y: 30, t: "图 4：制造业与服务业 PMI" },
    { x: 609, y: 30, t: "图 5：制造业 PMI 新订单-产成品库存差" },
    { x: 103, y: 391, t: "图 6：社融存量同比及 M1 同比" },
    { x: 609, y: 394, t: "图 7：" },
    { x: 676, y: 394, t: "进出口同比及贸易顺差" },
    { x: 103, y: 728, t: "图 8：房地产销售、投资与资金来源累计同比" },
    { x: 609, y: 728, t: "图 9：30 大中城市商品房成交面积(万平方米)" },
    { x: 103, y: 1060, t: "图 10：22 省市猪肉均价及同比" },
    { x: 609, y: 1060, t: "图 11：CPI 与 PPI 同比" },
  ];
  const under = [46.5, 414, 748.5, 1077];
  const sep = [373.5, 708.5, 1043.5, 1370.5];
  return (
    <g>
      {titles.map(t => (
        <text key={t.t} x={t.x} y={t.y} dy="0.35em" style={titleStyle as any}>{t.t}</text>
      ))}
      {under.map(v => <line key={"u" + v} x1={88} x2={1102} y1={v} y2={v} stroke="#555" strokeWidth={1.5} />)}
      {sep.map(v => <line key={"s" + v} x1={88} x2={1102} y1={v} y2={v} stroke="#333" strokeWidth={1.5} />)}
      <text x={103} y={1388} dy="0.35em" fontSize={17} fontFamily={CJK} letterSpacing={1} fill="#111">资料来源：Wind、中财期货</text>
      <line x1={88} x2={1102} y1={1416.5} y2={1416.5} stroke="#a3471e" strokeWidth={2} />
      <text x={90} y={1433} fontSize={16} fontFamily={CJK} fill="#111">敬请参阅最后一页特别声明</text>
      <text x={1100} y={1433} fontSize={16} textAnchor="end" fill="#111">10</text>
    </g>
  );
}

export default function App() {
  React.useEffect(() => {
    document.body.style.margin = "0";
    document.body.style.overflow = "hidden";
  }, []);
  return (
    <div style={{ position: "absolute", left: 0, top: 0, width: 1191, height: 1419, background: "#fff", overflow: "hidden" }}>
      <svg width={1191} height={1419} style={{ display: "block" }} fontFamily={NUM}>
        <rect width={1191} height={1419} fill="#fff" />
        <Frame />
        <Chart4 />
        <Chart5 />
        <Chart6 />
        <Chart7 />
        <Chart8 />
        <Chart9 />
        <Chart10 />
        <Chart11 />
      </svg>
    </div>
  );
}
